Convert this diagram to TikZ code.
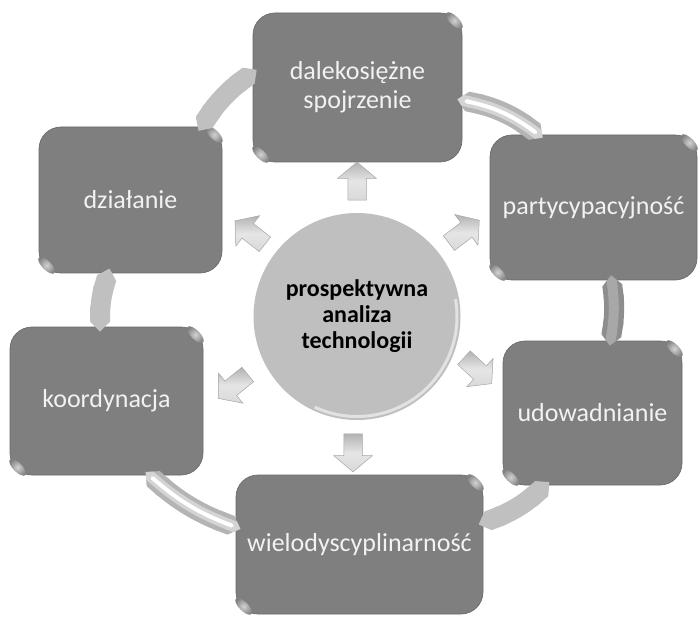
\documentclass[tikz,border=0pt]{standalone}
\usepackage{fontspec}
\setmainfont{Carlito}
\usetikzlibrary{shapes.arrows,arrows.meta,calc}
\definecolor{boxgray}{HTML}{7F7F7F}
\definecolor{boxedge}{HTML}{6A6A6A}
\definecolor{bandgray}{HTML}{C0C0C0}
\definecolor{discgray}{HTML}{BFBFBF}
\definecolor{tubeedge}{HTML}{B4B4B4}
\definecolor{tubemid}{HTML}{D4D4D4}
\definecolor{darktube}{HTML}{8E8E8E}
\definecolor{darktubemid}{HTML}{A8A8A8}
\begin{document}
\begin{tikzpicture}[x=1pt,y=1pt,
  card/.style={draw=boxedge, line width=0.7pt, fill=boxgray, rounded corners=22pt,
    inner sep=0pt, text=white!95!black, font=\fontsize{26}{29}\selectfont, align=center},
  capped/.style={{Triangle Cap}-{Triangle Cap}, shorten <=-5pt, shorten >=-5pt},
  flatband/.style={capped, line width=20pt, draw=bandgray},
  tubeband/.style={capped, line width=20pt, draw=tubeedge},
  tubecore/.style={capped, line width=11pt, draw=tubemid},
  tubeshine/.style={capped, line width=4pt, draw=white},
  blockarrow/.style={single arrow, draw=gray!70, line width=0.5pt,
    minimum height=38pt, minimum width=38pt, inner xsep=0pt, inner ysep=9pt,
    single arrow head extend=10pt, single arrow tip angle=100,
    top color=gray!60, bottom color=gray!30, middle color=white!80!gray},
  glint/.style={inner color=white!65!boxgray, outer color=boxgray}
]
\useasboundingbox (0,0) rectangle (698,-617);

% boxes
\node[card, minimum width=209pt, minimum height=149pt] (tb) at (357.5,-87.5) {dalekosiężne\\spojrzenie};
\node[card, minimum width=207pt, minimum height=145pt] (pa) at (593.5,-207.5) {partycypacyjność};
\node[card, minimum width=179pt, minimum height=144pt] (ud) at (592.5,-413) {udowadnianie};
\node[card, minimum width=247pt, minimum height=139pt] (wi) at (359.5,-544.5) {wielodyscyplinarność};
\node[card, minimum width=193pt, minimum height=148pt] (ko) at (106.5,-401) {koordynacja};
\node[card, minimum width=183pt, minimum height=146pt] (dz) at (130.5,-200) {działanie};

% corner glints
\foreach \b in {tb,pa,ud,wi,ko,dz}{
  \shade[glint] ($(\b.north east)+(-8,-8)$) ellipse[x radius=11pt, y radius=4.5pt, rotate=-45];
  \shade[glint] ($(\b.south west)+(8,8)$) ellipse[x radius=11pt, y radius=4.5pt, rotate=-45];
}

% ring connectors
\draw[flatband] (dz.46) to[bend left=10] (tb.172);
\draw[tubeband] (tb.-7) to[bend left=12] (pa.127);
\draw[tubecore] (tb.-7) to[bend left=12] (pa.127);
\draw[tubeshine, shorten <=2pt, shorten >=2pt] (tb.-7) to[bend left=12] (pa.127);
\draw[capped, line width=20pt, draw=darktube] (pa.-76) to[bend left=8] (ud.76);
\draw[capped, line width=10pt, draw=darktubemid] (pa.-76) to[bend left=8] (ud.76);
\draw[flatband] (ud.-123) to[bend left=10] (wi.10);
\draw[tubeband] (wi.172) to[bend left=10] (ko.-60);
\draw[tubecore] (wi.172) to[bend left=10] (ko.-60);
\draw[tubeshine, shorten <=2pt, shorten >=2pt] (wi.172) to[bend left=10] (ko.-60);
\draw[flatband] (ko.95) to[bend left=8] (dz.-107);

% central disc
\node[circle, minimum size=207pt, inner sep=0pt, fill=discgray, align=center,
  font=\bfseries\fontsize{24}{26}\selectfont] (c) at (357,-316.5)
  {prospektywna\\analiza\\technologii};
\draw[white, opacity=0.55, line width=3pt] ($(c.center)+(-115:100)$) arc[start angle=-115, end angle=10, radius=100pt];

% radial block arrows
\node[blockarrow, rotate=90] (aN) at (357,-185) {};
\node[blockarrow, rotate=-90] (aS) at (353,-449) {};
\node[blockarrow, rotate=142] (aNW) at (253,-235) {};
\node[blockarrow, rotate=37] (aNE) at (461,-234) {};
\node[blockarrow, rotate=-43] (aSE) at (475,-368) {};
\node[blockarrow, rotate=219] (aSW) at (236,-384) {};
\end{tikzpicture}
\end{document}
